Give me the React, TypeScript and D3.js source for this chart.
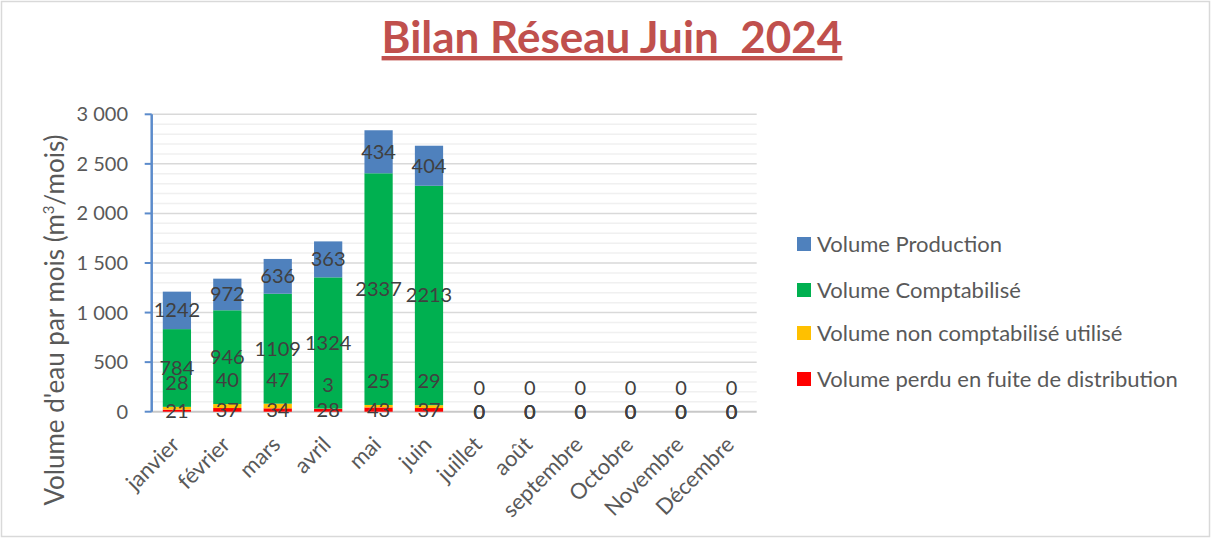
import React from 'react'
import * as d3 from 'd3'

// months on the x axis
const months = ['janvier', 'février', 'mars', 'avril', 'mai', 'juin', 'juillet', 'août', 'septembre', 'Octobre', 'Novembre', 'Décembre']

// series, bottom to top of the stack
const perdu = [21, 37, 34, 28, 43, 37, 0, 0, 0, 0, 0, 0]
const nonComptabilise = [28, 40, 47, 3, 25, 29, 0, 0, 0, 0, 0, 0]
const comptabilise = [784, 946, 1109, 1324, 2337, 2213, 0, 0, 0, 0, 0, 0]
const production = [378, 319, 351, 363, 434, 404, 0, 0, 0, 0, 0, 0]
// the labels shown on the blue segments (they differ from the heights in the source file)
const productionLabels = [1242, 972, 636, 363, 434, 404, 0, 0, 0, 0, 0, 0]

const yTicks = [0, 500, 1000, 1500, 2000, 2500, 3000]

const series = [
  {key: 'perdu', name: 'Volume perdu en fuite de distribution', color: '#FF0000', values: perdu, labels: perdu},
  {key: 'nonComptabilise', name: 'Volume non comptabilisé utilisé', color: '#FFC000', values: nonComptabilise, labels: nonComptabilise},
  {key: 'comptabilise', name: 'Volume Comptabilisé', color: '#00B050', values: comptabilise, labels: comptabilise},
  {key: 'production', name: 'Volume Production', color: '#4F81BD', values: production, labels: productionLabels}
]

const W = 1212
const H = 539
const font = 'Lato, "Open Sans", sans-serif'
const textColor = '#595959'

const fr = d3.formatLocale({decimal: ',', thousands: ' ', grouping: [3], currency: ['', ' €']})
const fmt = fr.format(',')

export default function App () {
  const rows = months.map((m, i) => {
    const r: any = {month: m}
    series.forEach(s => { r[s.key] = s.values[i] })
    return r
  })
  const stacked = d3.stack().keys(series.map(s => s.key))(rows)

  const x = d3.scaleBand().domain(months).range([151.7, 756.7]).paddingInner(0.44).paddingOuter(0.22)
  const y = d3.scaleLinear().domain([0, 3000]).range([411.7, 114.3])
  const minor = d3.range(0, 3001, 100).filter(v => v % 500 !== 0)
  const [x0, x1] = x.range()

  return (
    <svg width={W} height={H} style={{position: 'absolute', left: 0, top: 0, background: '#fff'}} fontFamily={font}>
      <rect x={1.5} y={1.5} width={W - 4} height={H - 4} fill='#fff' stroke='#d9d9d9' strokeWidth={1.5}/>

      {/* title */}
      <text x={612} y={53} textAnchor='middle' fontSize={44} fontWeight='bold' fill='#C0504D'
        style={{whiteSpace: 'pre', textDecoration: 'underline'}}>Bilan Réseau Juin  2024</text>

      {/* gridlines */}
      {minor.map(v => (
        <line key={'m' + v} x1={x0} x2={x1} y1={y(v)} y2={y(v)} stroke='#f0f0f0' strokeWidth={1.5}/>
      ))}
      {yTicks.filter(v => v > 0).map(v => (
        <line key={'g' + v} x1={x0} x2={x1} y1={y(v)} y2={y(v)} stroke='#d9d9d9' strokeWidth={1.5}/>
      ))}
      <line x1={x0} x2={x1} y1={y(0)} y2={y(0)} stroke='#c8c8c8' strokeWidth={2}/>

      {/* y axis */}
      <line x1={x0} x2={x0} y1={y(3000)} y2={y(0)} stroke='#5B8BCB' strokeWidth={2.5}/>
      {yTicks.map(v => (
        <g key={'t' + v}>
          <line x1={x0 - 7} x2={x0} y1={y(v)} y2={y(v)} stroke='#5B8BCB' strokeWidth={2}/>
          <text x={128} y={y(v)} dy='0.35em' textAnchor='end' fontSize={20} fill={textColor}>{fmt(v)}</text>
        </g>
      ))}
      <text transform={`translate(64,320) rotate(-90)`} textAnchor='middle' fontSize={26} fill={textColor}>
        Volume d'eau par mois (m<tspan fontSize={15} dy={-10}>3</tspan><tspan dy={10}>/mois)</tspan>
      </text>

      {/* bars */}
      {stacked.map((layer, si) => (
        <g key={layer.key}>
          {layer.map((d, i) => (
            <rect key={i} x={x(months[i])} width={x.bandwidth()} y={y(d[1])} height={y(d[0]) - y(d[1])} fill={series[si].color}/>
          ))}
        </g>
      ))}

      {/* data labels */}
      {stacked.map((layer, si) => (
        <g key={'l' + layer.key}>
          {layer.map((d, i) => {
            let ly = y((d[0] + d[1]) / 2)
            if (series[si].key === 'nonComptabilise') ly = y(d[1]) - 24
            return (
              <text key={i} x={x(months[i])! + x.bandwidth() / 2} y={ly} dy='0.35em' textAnchor='middle'
                fontSize={20} fill='#404040'>{series[si].labels[i]}</text>
            )
          })}
        </g>
      ))}

      {/* month labels */}
      {months.map(m => (
        <text key={m} transform={`translate(${x(m)! + x.bandwidth() / 2 + 4},446) rotate(-45)`} textAnchor='end'
          fontSize={22} fill={textColor}>{m}</text>
      ))}

      {/* legend */}
      {series.slice().reverse().map((s, i) => {
        const ly = [244, 290, 333, 379][i]
        return (
          <g key={'lg' + s.key}>
            <rect x={797} y={ly - 7} width={14} height={14} fill={s.color}/>
            <text x={817} y={ly} dy='0.35em' fontSize={22} fill={textColor}>{s.name}</text>
          </g>
        )
      })}
    </svg>
  )
}
